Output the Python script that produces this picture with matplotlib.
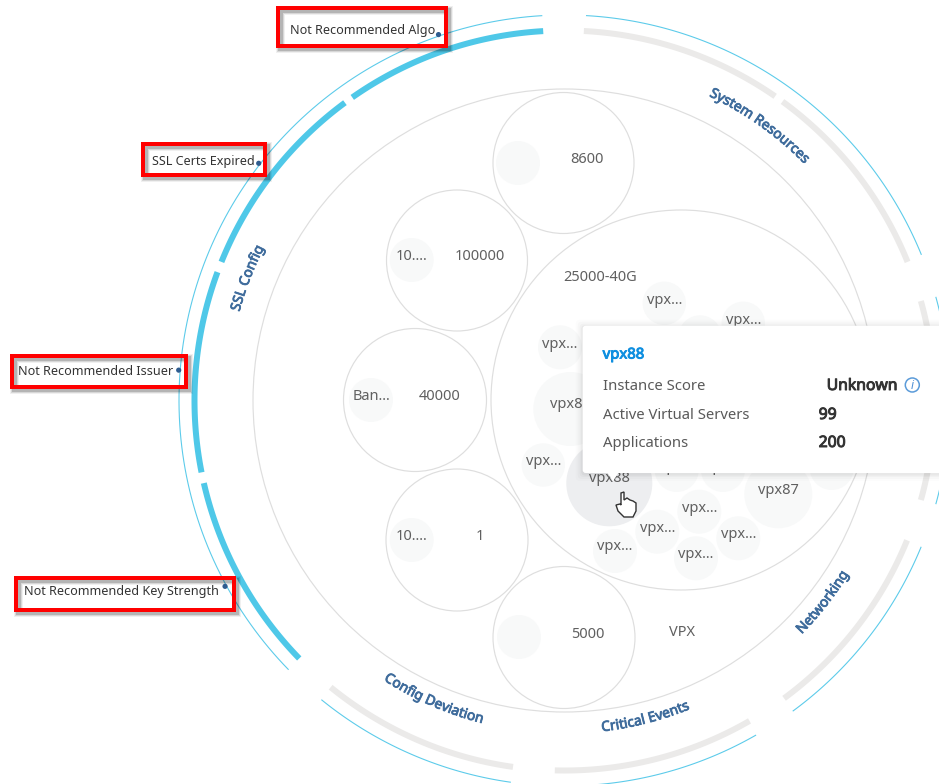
import numpy as np
import matplotlib
matplotlib.use("Agg")
import matplotlib.pyplot as plt
import matplotlib.patheffects as pe
from matplotlib.patches import Circle, Rectangle, FancyBboxPatch, Polygon
from matplotlib.font_manager import FontProperties
from matplotlib.textpath import text_to_path

plt.rcParams['font.family'] = ['Noto Sans', 'DejaVu Sans']

# ring segments, degrees counter clockwise from east
thick_cyan = [(93.3, 125.0), (126.4, 158.0), (159.7, 191.2), (192.9, 224.2)]
thick_gray = [(230.8, 262.0), (268.5, 300.0), (306.4, 337.8), (344.4, 375.6), (382.0, 413.9), (415.3, 447.0)]
thin_ring = [(93.3, 224.3), (230.9, 262.0), (268.5, 299.8), (306.3, 337.7), (344.4, 375.6), (382.2, 446.8)]

# group circles: label, x, y, r, small circle x, y, r, small label
group_names = ['8600', '100000', '40000', '1', '5000']
group_x = [563.5, 457, 415, 457, 564]
group_y = [163, 260.5, 400, 540, 637.5]
group_r = [70.5, 70.5, 71.5, 71, 71]
group_lab_x = [587, 480, 440, 480, 588]
small_x = [518, 411.7, 371, 411.7, 519]
small_y = [163, 260, 400, 540, 637]
small_lab = ['', '10....', 'Ban...', '10....', '']

# instances inside the 25000-40G circle
inst_x = [664.3, 743.3, 700, 560, 570.3, 543.3, 676.7, 723, 778.3, 831.7, 699.3, 657.3, 738.3, 615, 696]
inst_y = [303.3, 323.3, 337, 347.3, 409, 465, 470, 470, 494.3, 468, 511.7, 531.7, 538.3, 551, 558.3]
inst_r = [21.7, 21.7, 21.7, 22, 37, 21.7, 22, 22, 34, 22, 22, 22, 22, 22, 22]
inst_lab = ['vpx...', 'vpx...', 'vpx...', 'vpx...', 'vpx85', 'vpx...', 'vpx...', 'vpx...', 'vpx87', 'vpx...',
            'vpx...', 'vpx...', 'vpx...', 'vpx...', 'vpx...']
inst_lab_y = [300, 320, 336, 344, 404, 461, 467, 467, 490, 465, 508, 528, 534, 547, 555]

callouts = ['Not Recommended Algo', 'SSL Certs Expired', 'Not Recommended Issuer', 'Not Recommended Key Strength']
callout_ang = [109.0, 142.2, 175.5, 208.7]
box_x = [276, 141.3, 10, 14.3]
box_y = [6, 142.3, 354, 575.7]
box_w = [172, 126, 178, 221.4]
box_h = [42, 35, 35, 36]
callout_tx = [290, 151.5, 17.5, 24]
callout_ty = [30.5, 161.5, 371.5, 591.5]

arc_labels = ['System Resources', 'Networking', 'Critical Events', 'Config Deviation', 'SSL Config']
arc_mid = [54.6, 322.0, 284.3, 246.4, 158.9]
arc_dir = [-1, 1, 1, 1, -1]

tip_rows = ['Instance Score', 'Active Virtual Servers', 'Applications']
tip_vals = ['Unknown', '99', '200']
tip_val_x = [826.7, 818.7, 818.7]
tip_y = [386, 415, 443]

hand_x = [621, 621, 624, 624, 627, 630, 633, 636, 636, 633, 624, 618, 616, 620, 621]
hand_y = [505, 493, 492, 500, 498, 500, 501, 503, 511, 517, 517, 511, 505, 504, 505]

cx, cy = 564.5, 400.5
text_gray = '#606060'
blue_lab = '#3F6C9C'
circle_edge = '#DEDEDE'

fig = plt.figure(figsize=(9.39, 7.84), dpi=100)
ax = fig.add_axes([0, 0, 1, 1])
ax.set_xlim(0, 939)
ax.set_ylim(784, 0)
ax.axis('off')


def heavy(color, w=0.45):
    return [pe.withStroke(linewidth=w, foreground=color)]


def ring(segs, r, color, width):
    for a, b in segs:
        t = np.radians(np.linspace(a, b, 120))
        ax.plot(cx + r * np.cos(t), cy - r * np.sin(t), color=color, lw=width * 0.72,
                solid_capstyle='butt', zorder=2)


def curved(s, mid, direction, r, size=10):
    # one glyph at a time along the ring
    prop = FontProperties(family='Noto Sans', size=size)
    adv = lambda q: text_to_path.get_text_width_height_descent(q + '|', prop, False)[0] \
        - text_to_path.get_text_width_height_descent('|', prop, False)[0]
    total = adv(s) * 100 / 72
    for i, ch in enumerate(s):
        off = (adv(s[:i]) + adv(ch) / 2) * 100 / 72 - total / 2
        ang = mid + direction * np.degrees(off / r)
        x = cx + r * np.cos(np.radians(ang))
        y = cy - r * np.sin(np.radians(ang))
        rot = ang - 90 if direction < 0 else ang + 90
        ax.text(x, y, ch, fontproperties=prop, color=blue_lab, rotation=rot, rotation_mode='anchor',
                ha='center', va='baseline', zorder=3, path_effects=heavy(blue_lab, 0.6))


ring(thin_ring, 385.5, '#5CCBEA', 1.1)
ring(thick_cyan, 370, '#4FC8E8', 6)
ring(thick_gray, 370, '#EBEAE9', 6)

ax.add_patch(Circle((cx, cy), 311.5, fc='none', ec=circle_edge, lw=0.85, zorder=2))
ax.add_patch(Circle((681, 400), 190, fc='none', ec=circle_edge, lw=0.85, zorder=2))

for i in range(len(group_names)):
    ax.add_patch(Circle((group_x[i], group_y[i]), group_r[i], fc='white', ec=circle_edge, lw=0.85, zorder=2))
    ax.add_patch(Circle((small_x[i], small_y[i]), 22, fc='#F8F9F9', ec='none', zorder=3))
    ax.text(group_lab_x[i], group_y[i] - 3.5, group_names[i], color=text_gray, fontsize=10.5,
            ha='center', va='center', zorder=4)
    ax.text(small_x[i], small_y[i] - 3.5, small_lab[i], color=text_gray, fontsize=10.5,
            ha='center', va='center', zorder=4)

ax.text(600, 277, '25000-40G', color=text_gray, fontsize=10.5, ha='center', va='center', zorder=4)
ax.text(682, 632, 'VPX', color=text_gray, fontsize=10.5, ha='center', va='center', zorder=4)

for i in range(len(inst_x)):
    ax.add_patch(Circle((inst_x[i], inst_y[i]), inst_r[i], fc='#F8F9F9', ec='none', zorder=3))
    ax.text(inst_x[i], inst_lab_y[i], inst_lab[i], color=text_gray, fontsize=10.5, ha='center', va='center', zorder=4)

# hovered instance
ax.add_patch(Circle((609.3, 483.3), 43, fc='#EDEEF0', ec='none', zorder=3))
ax.text(609.3, 478, 'vpx88', color=text_gray, fontsize=10.5, ha='center', va='center', zorder=4)

# tooltip
for grow, alpha in zip([7, 5, 3, 1.5], [0.012, 0.02, 0.025, 0.035]):
    ax.add_patch(FancyBboxPatch((582.7 - grow, 325.7 - grow + 1), 400 + 2 * grow, 147.3 + 2 * grow,
                                boxstyle='round,pad=0,rounding_size=4', fc='black', ec='none', alpha=alpha, zorder=5))
ax.add_patch(FancyBboxPatch((582.7, 325.7), 400, 147.3, boxstyle='round,pad=0,rounding_size=3',
                            fc='white', ec='none', zorder=6))
ax.add_patch(Polygon([(607, 472), (619, 472), (613, 481)], closed=True, fc='white', ec='none', zorder=6))
ax.text(602.7, 355, 'vpx88', color='#0F8FE0', fontsize=10.7, va='center', zorder=7, path_effects=heavy('#0F8FE0', 0.7))
for i in range(3):
    ax.text(602.7, tip_y[i], tip_rows[i], color='#5A5A5A', fontsize=10.7, va='center', zorder=7)
    ax.text(tip_val_x[i], tip_y[i], tip_vals[i], color='#333333', fontsize=11.3, va='center', zorder=7,
            path_effects=heavy('#333333', 0.7))
ax.add_patch(Circle((912.3, 385), 7, fc='white', ec='#5B9BD9', lw=1.1, zorder=7))
ax.text(912.3, 385, 'i', color='#4E8FD6', fontsize=8.5, style='italic', ha='center', va='center', zorder=8)

ax.add_patch(Polygon(np.column_stack([hand_x, hand_y]), closed=True, fc='white', ec='#333333', lw=1, zorder=9))

for s, m, d in zip(arc_labels, arc_mid, arc_dir):
    curved(s, m, d, 337 if d < 0 else 333)

# red callout boxes with a soft shadow, no fill
for i in range(4):
    x, y, w, h = box_x[i] + 2, box_y[i] + 2, box_w[i] - 4, box_h[i] - 4
    for lw, alpha in zip([9, 7, 5], [0.06, 0.10, 0.16]):
        ax.add_patch(Rectangle((x + 2, y + 2), w, h, fc='none', ec='black', lw=lw * 0.72, alpha=alpha, zorder=10))
    ax.add_patch(Rectangle((x, y), w, h, fc='none', ec='#FF0000', lw=4 * 0.72, zorder=11))
    ax.text(callout_tx[i], callout_ty[i], callouts[i], color='#333333', fontsize=9.05, va='center', zorder=12)
    t = np.radians(callout_ang[i])
    ax.add_patch(Circle((cx + 387 * np.cos(t), cy - 387 * np.sin(t)), 2.6, fc='#2F5C8F', ec='none', zorder=12))

fig.savefig('out.png', dpi=100, facecolor='white')
